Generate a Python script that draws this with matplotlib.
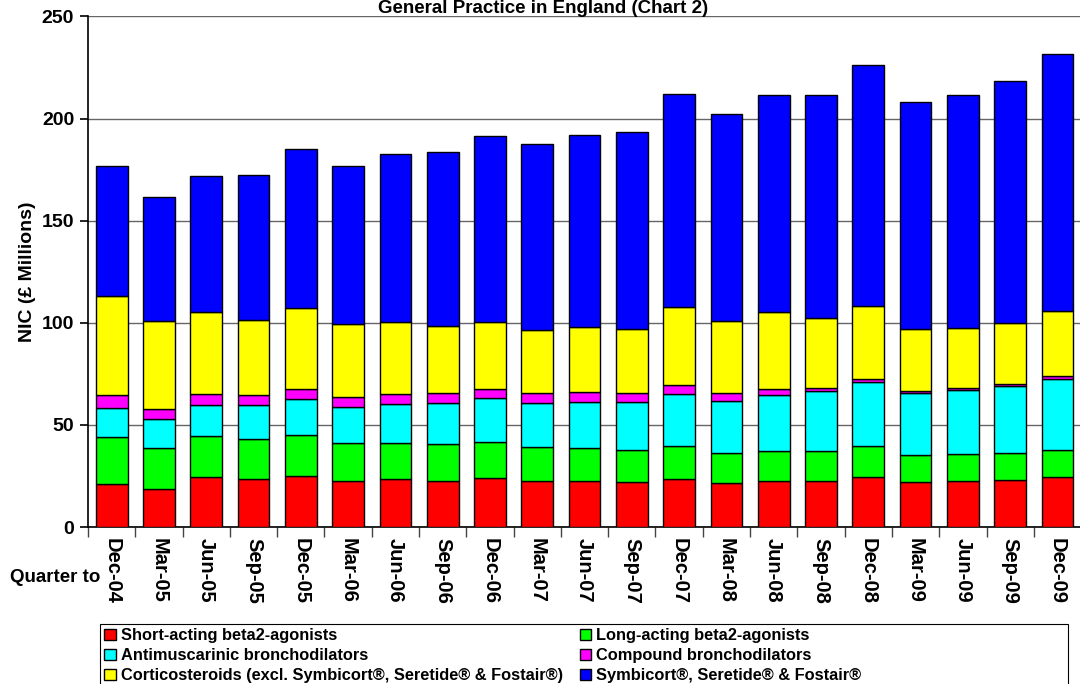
import matplotlib.pyplot as plt
from matplotlib.patches import Rectangle
import numpy as np

plt.rcParams['font.family'] = ['Liberation Sans', 'DejaVu Sans']
plt.rcParams['font.weight'] = 'bold'

quarters = ['Dec-04', 'Mar-05', 'Jun-05', 'Sep-05', 'Dec-05', 'Mar-06', 'Jun-06',
            'Sep-06', 'Dec-06', 'Mar-07', 'Jun-07', 'Sep-07', 'Dec-07', 'Mar-08',
            'Jun-08', 'Sep-08', 'Dec-08', 'Mar-09', 'Jun-09', 'Sep-09', 'Dec-09']

# NIC, £ millions per quarter
short_acting = [21.1, 18.8, 24.4, 23.5, 25.0, 22.7, 23.4, 22.7, 23.9, 22.4, 22.3,
                21.8, 23.4, 21.4, 22.4, 22.7, 24.7, 21.9, 22.4, 22.9, 24.4]
long_acting = [23.2, 20.1, 20.1, 19.6, 20.0, 18.3, 17.8, 17.8, 17.6, 16.7, 16.3,
               15.8, 16.5, 14.9, 14.7, 14.6, 15.0, 13.6, 13.4, 13.4, 13.5]
antimuscarinic = [14.0, 13.9, 15.2, 16.6, 17.6, 18.0, 18.9, 20.0, 21.6, 21.7, 22.5,
                  23.4, 25.0, 25.5, 27.6, 29.2, 31.1, 29.9, 31.1, 32.8, 34.8]
compound = [6.1, 5.2, 5.3, 4.9, 5.2, 4.7, 4.8, 4.9, 4.5, 4.7, 4.9,
            4.5, 4.6, 3.9, 2.9, 1.8, 1.6, 1.1, 1.1, 1.0, 1.0]
corticosteroids = [48.7, 42.7, 40.1, 36.9, 39.3, 35.5, 35.6, 33.1, 32.9, 30.9, 31.7,
                   31.4, 38.2, 35.3, 37.5, 34.0, 35.6, 30.3, 29.4, 29.6, 31.9]
combination = [63.7, 61.1, 67.0, 70.9, 77.9, 77.6, 82.0, 85.0, 90.9, 91.3, 94.0,
               96.7, 104.1, 101.1, 106.2, 109.3, 118.0, 111.4, 113.9, 118.8, 125.8]

series = [
    (short_acting, '#ff0000', 'Short-acting beta2-agonists'),
    (long_acting, '#00ff00', 'Long-acting beta2-agonists'),
    (antimuscarinic, '#00ffff', 'Antimuscarinic bronchodilators'),
    (compound, '#ff00ff', 'Compound bronchodilators'),
    (corticosteroids, '#ffff00', 'Corticosteroids (excl. Symbicort\u00ae, Seretide\u00ae & Fostair\u00ae)'),
    (combination, '#0000ff', 'Symbicort\u00ae, Seretide\u00ae & Fostair\u00ae'),
]

fig = plt.figure(figsize=(10.8, 6.84), dpi=100)
ax = fig.add_axes([0.0815, 0.2295, 0.9195, 0.7465])

x = np.arange(len(quarters))
bottom = np.zeros(len(quarters))
handles = []
for vals, col, lab in series:
    b = ax.bar(x, vals, 0.67, bottom=bottom, color=col, edgecolor='black',
               linewidth=1.0, label=lab, zorder=3)
    handles.append(b)
    bottom += np.array(vals)

ax.set_xlim(-0.5, len(quarters) - 0.5)
ax.set_ylim(0, 250)
ax.set_yticks([0, 50, 100, 150, 200, 250])
ax.yaxis.grid(True, color='#666666', linewidth=1.0, zorder=0)
ax.set_axisbelow(True)

for s in ['top', 'right']:
    ax.spines[s].set_visible(False)
ax.spines['left'].set_linewidth(1.2)
ax.spines['bottom'].set_linewidth(1.2)

ax.tick_params(axis='y', direction='out', length=6, width=1.2, labelsize=14, pad=4)
ax.set_yticklabels(['0', '50', '100', '150', '200', '250'], fontweight='bold')

# category labels at centres, tick marks at boundaries
ax.set_xticks(x)
ax.set_xticklabels(quarters, rotation=270, fontsize=14.5, fontweight='bold',
                   va='top', ha='center')
ax.tick_params(axis='x', which='major', length=0, pad=8)
ax.set_xticks(np.arange(len(quarters) + 1) - 0.5, minor=True)
ax.tick_params(axis='x', which='minor', direction='out', length=7, width=1.0,
               color='#444444')

ax.set_ylabel('NIC (\u00a3 Millions)', fontsize=14, fontweight='bold', labelpad=4)

fig.text(0.503, 1.0, 'General Practice in England (Chart 2)', ha='center',
         va='top', fontsize=13.5, fontweight='bold')
fig.text(0.009, 1 - 578 / 684, 'Quarter to', ha='left', va='center',
         fontsize=13.5, fontweight='bold')

order = [0, 2, 4, 1, 3, 5]
leg = fig.legend([handles[i] for i in order], [series[i][2] for i in order],
                 ncol=2, loc='upper left', bbox_to_anchor=(0.0935, 1 - 625 / 684),
                 frameon=False, fontsize=11.8, handlelength=0.7, handleheight=0.7,
                 handletextpad=0.3, columnspacing=1.05, labelspacing=0.3,
                 borderaxespad=0, borderpad=0.2)
for t in leg.get_texts():
    t.set_fontweight('bold')

fig.patches.append(Rectangle((100 / 1080, -0.01), 968 / 1080, 1 - 624 / 684 + 0.01,
                             transform=fig.transFigure, fill=False,
                             edgecolor='black', linewidth=0.8))

fig.savefig('out.png', dpi=100)
